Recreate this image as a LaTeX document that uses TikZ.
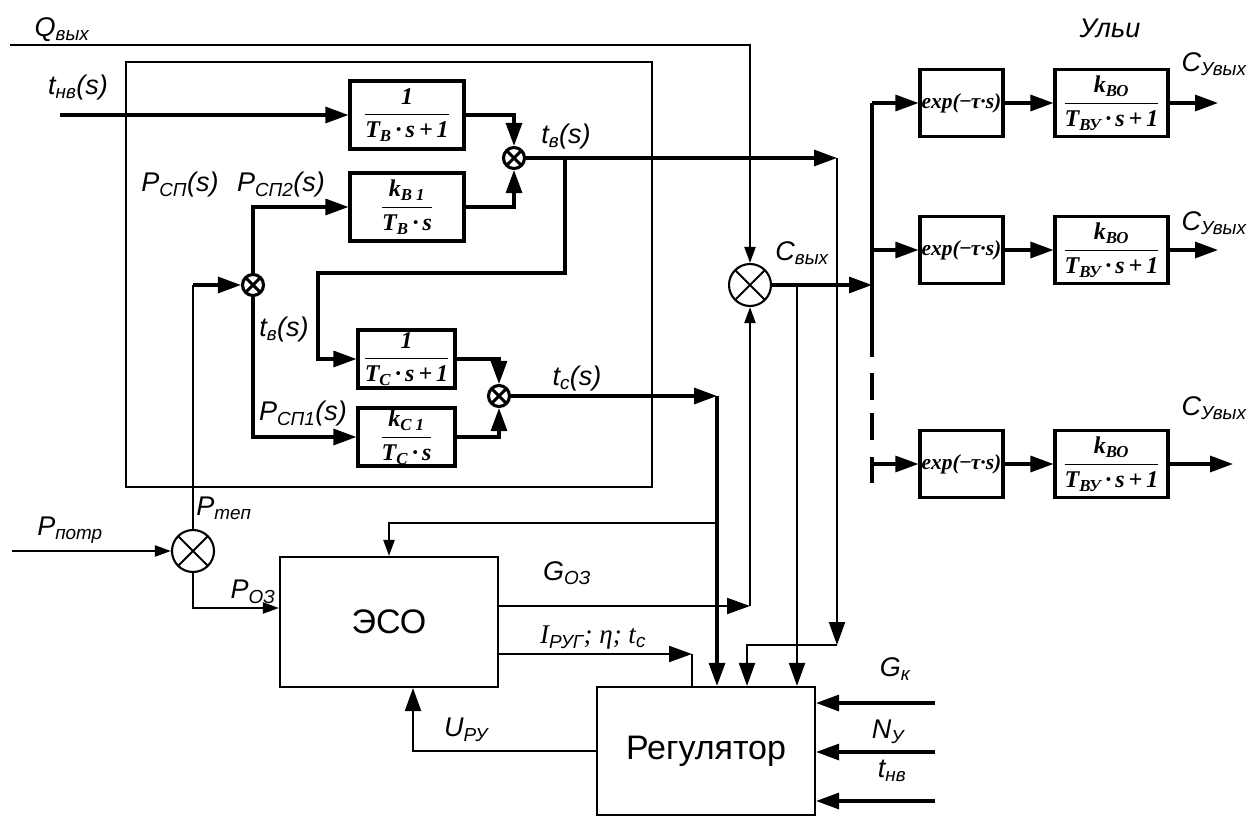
\documentclass[tikz,border=0pt]{standalone}
\usepackage{amsmath}
\usepackage{fontspec}
\setmainfont{Liberation Sans}
\newfontfamily\serifrm{Liberation Serif}
\usetikzlibrary{arrows.meta}

\newcommand{\bfr}[2]{$\genfrac{}{}{0.9pt}{0}{\text{#1}}{\text{#2}}$}
\newcommand{\lsub}[1]{\textsubscript{#1}}

\tikzset{
    thinln/.style={line width=2.1pt},
    boldln/.style={line width=3.1pt},
    arr/.style={-{Triangle[length=23pt,width=16pt]}},
    arrs/.style={-{Triangle[length=16pt,width=11pt]}},
    tfblock/.style={draw, boldln, inner sep=0pt,
        font=\serifrm\bfseries\itshape\fontsize{24}{26}\selectfont},
    bigblock/.style={draw, thinln, inner sep=0pt, font=\fontsize{34}{38}\selectfont},
    sumbig/.style={circle, draw, thinln, minimum size=42pt, inner sep=0pt,
        path picture={\draw[thinln] (path picture bounding box.north west) -- (path picture bounding box.south east)
            (path picture bounding box.north east) -- (path picture bounding box.south west);}},
    sumsmall/.style={circle, draw, boldln, minimum size=21pt, inner sep=0pt,
        path picture={\draw[boldln] (path picture bounding box.north west) -- (path picture bounding box.south east)
            (path picture bounding box.north east) -- (path picture bounding box.south west);}},
    lbl/.style={inner sep=0pt, font=\itshape\fontsize{27}{30}\selectfont},
}

\begin{document}
\begin{tikzpicture}[x=1pt, y=-1pt]
    \useasboundingbox (0,0) rectangle (1253,816);

    % object of control
    \draw[thinln] (126,62) rectangle (652,487);

    \node[tfblock, minimum width=114pt, minimum height=68pt] (blkB1) at (407,115) {\bfr{1}{T\lsub{B}\,·\,s\,+\,1}};
    \node[tfblock, minimum width=114pt, minimum height=68pt] (blkB2) at (407,207) {\bfr{k\lsub{B 1}}{T\lsub{B}\,·\,s}};
    \node[tfblock, minimum width=97pt, minimum height=58pt] (blkC1) at (406.5,359) {\bfr{1}{T\lsub{C}\,·\,s\,+\,1}};
    \node[tfblock, minimum width=97pt, minimum height=58pt] (blkC2) at (406.5,437) {\bfr{k\lsub{C 1}}{T\lsub{C}\,·\,s}};

    \node[sumsmall] (sumT) at (514,158) {};
    \node[sumsmall] (sumTc) at (499,396) {};
    \node[sumsmall] (sumP) at (253,285) {};
    \node[sumbig] (sumPin) at (193,551) {};
    \node[sumbig] (sumC) at (750,285) {};

    \node[bigblock, minimum width=218pt, minimum height=130pt] (eso) at (389,622) {ЭСО};
    \node[bigblock, minimum width=218pt, minimum height=128pt] (reg) at (706,751) {Регулятор};

    % free ends and junctions
    \coordinate (qin) at (10,45);
    \coordinate (tin) at (60,115);
    \coordinate (tvS) at (565,158);
    \coordinate (tvE) at (837,158);
    \coordinate (tvK) at (837,645);
    \coordinate (tcE) at (717,396);
    \coordinate (tcK) at (717,523);
    \coordinate (pN) at (193,285);
    \coordinate (potr) at (12,551);
    \coordinate (gozE) at (750,606);
    \coordinate (irE) at (692,654);
    \coordinate (cE) at (872,285);
    \coordinate (cT) at (797,285);
    \coordinate (busT) at (872,103);
    \coordinate (gk) at (935,703);
    \coordinate (ny) at (935,752);
    \coordinate (tnv) at (935,801);

    % air and structure temperatures
    \draw[thinln, arrs] (qin) -| (sumC.north);
    \draw[boldln, arr] (tin) -- (blkB1.west);
    \draw[boldln, arr] (blkB1.east) -| (sumT.north);
    \draw[boldln, arr] (blkB2.east) -| (sumT.south);
    \draw[boldln, arr] (sumT.east) -- (tvE);
    \draw[boldln, arr] (tvS) |- (318,273) |- (blkC1.west);
    \draw[thinln, arr] (tvE) -- (tvK);
    \draw[thinln, arr] (tvK) -| ([xshift=41pt]reg.north);
    \draw[boldln, arr] (blkC1.east) -| (sumTc.north);
    \draw[boldln, arr] (blkC2.east) -| (sumTc.south);
    \draw[boldln, arr] (sumTc.east) -- (tcE);
    \draw[boldln, arr] (tcE) -- (tcE |- reg.north);
    \draw[thinln, arrs] (tcK) -| (eso.north);

    % heat supply
    \draw[thinln] (sumPin.north) -- (pN);
    \draw[boldln, arr] (pN) -- (sumP.west);
    \draw[boldln, arr] (sumP.north) |- (blkB2.west);
    \draw[boldln, arr] (sumP.south) |- (blkC2.west);
    \draw[thinln, arrs] (potr) -- (sumPin.west);
    \draw[thinln, arrs] (sumPin.south) |- ([yshift=14pt]eso.west);

    % ESO and controller
    \draw[thinln, arr] ([yshift=16pt]eso.east) -- (gozE);
    \draw[thinln, arrs] (gozE) -- (sumC.south);
    \draw[thinln, arr] ([yshift=-32pt]eso.east) -- (irE);
    \draw[thinln] (irE) -- (irE |- reg.north);
    \draw[thinln, arr] (reg.west) -| ([xshift=24pt]eso.south);
    \draw[boldln, arr] (sumC.east) -- (cE);
    \draw[thinln, arr] (cT) -- (cT |- reg.north);
    \foreach \c/\dy in {gk/48, ny/-1, tnv/-50}
        \draw[boldln, arr] (\c) -- ([yshift=\dy pt]reg.east);

    % hives
    \draw[boldln] (busT) -- (872,357);
    \foreach \ya/\yb in {373/400, 413/440}
        \draw[boldln] (872,\ya) -- (872,\yb);
    \draw[boldln] (872,457) -- (872,483);
    \foreach \i/\y/\xo in {1/103/1218, 2/250/1218, 3/464/1233} {
        \node[tfblock, minimum width=83pt, minimum height=67pt,
            font=\serifrm\bfseries\itshape\fontsize{21.5}{23}\selectfont] (exp\i) at (961.5,\y) {exp(\kern-1pt−\kern-1ptτ·s)};
        \node[tfblock, minimum width=113pt, minimum height=67pt] (frac\i) at (1111.5,\y) {\bfr{k\lsub{ВО}}{T\lsub{ВУ}\,·\,s\,+\,1}};
        \coordinate (out\i) at (\xo,\y);
        \draw[boldln, arr] (872,\y) -- (exp\i.west);
        \draw[boldln, arr] (exp\i) -- (frac\i);
        \draw[boldln, arr] (frac\i) -- (out\i);
    }

    % labels
    \node[lbl] (lQ) at (62,30) {Q\lsub{вых}};
    \node[lbl] (lTnv) at (78,88) {t\lsub{нв}(s)};
    \node[lbl] (lPsp) at (180,185) {P\lsub{СП}(s)};
    \node[lbl] (lPsp2) at (281,185) {P\lsub{СП2}(s)};
    \node[lbl] (lTv) at (566,137) {t\lsub{в}(s)};
    \node[lbl] (lTv2) at (284,330) {t\lsub{в}(s)};
    \node[lbl] (lPsp1) at (303,414) {P\lsub{СП1}(s)};
    \node[lbl] (lTc) at (577,379) {t\lsub{c}(s)};
    \node[lbl] (lC) at (802,253) {C\lsub{вых}};
    \node[lbl] (lHives) at (1110,28) {Ульи};
    \foreach \y in {64, 223, 408}
        \node[lbl] at (1214,\y) {C\lsub{Увых}};
    \node[lbl] (lPpotr) at (70,530) {P\lsub{потр}};
    \node[lbl] (lPtep) at (224,508) {P\lsub{теп}};
    \node[lbl] (lPoz) at (253,592) {P\lsub{ОЗ}};
    \node[lbl] (lGoz) at (567,573) {G\lsub{ОЗ}};
    \node[lbl] (lIrug) at (593,638) {{\serifrm I}\lsub{РУГ}{\serifrm ; η; t}\lsub{c}};
    \node[lbl] (lUru) at (466,730) {U\lsub{РУ}};
    \node[lbl] (lGk) at (895,669) {G\lsub{к}};
    \node[lbl] (lNy) at (888,732) {N\lsub{У}};
    \node[lbl] (lTnv2) at (892,771) {t\lsub{нв}};
\end{tikzpicture}
\end{document}
